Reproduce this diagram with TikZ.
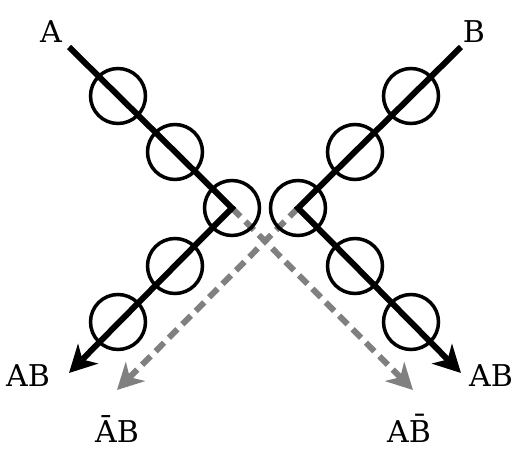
\documentclass[tikz,border=0pt]{standalone}
\usepackage{fontspec}
\setmainfont{DejaVu Serif}
\usetikzlibrary{arrows.meta}
\begin{document}
\begin{tikzpicture}[x=1pt,y=-1pt,
  ring/.style={circle,draw=black,line width=3.5pt,minimum size=55pt,inner sep=0pt},
  beam/.style={line width=6pt,black,miter limit=10},
  ghost/.style={line width=6pt,gray,dash pattern=on 12pt off 7pt},
  tipb/.style={-{Stealth[length=27pt,width=28pt,inset=8pt]}},
  tipg/.style={-{Stealth[length=26pt,width=27pt,inset=8pt]}},
  lab/.style={anchor=base,inner sep=0pt,font=\fontsize{30}{35}\selectfont}]
\useasboundingbox (0,0) rectangle (523,463);
% end points
\coordinate (a0) at (69,47);
\coordinate (b0) at (461,47);
\coordinate (lbend) at (232,208);
\coordinate (rbend) at (298,208);
\coordinate (lend) at (69,373);
\coordinate (rend) at (461,373);
\coordinate (glend) at (117,390);
\coordinate (grend) at (413,390);
% gray dashed
\draw[ghost,tipg] (lbend) -- (grend);
\draw[ghost,tipg] (rbend) -- (glend);
% black beams
\draw[beam,tipb] (a0) -- (lbend) -- (lend);
\draw[beam,tipb] (b0) -- (rbend) -- (rend);
% rings
\node[ring] (l1) at (118,96) {};
\node[ring] (l2) at (175,152) {};
\node[ring] (l3) at (232,208) {};
\node[ring] (l4) at (175,266) {};
\node[ring] (l5) at (118,322) {};
\node[ring] (r1) at (411,96) {};
\node[ring] (r2) at (355,152) {};
\node[ring] (r3) at (298,208) {};
\node[ring] (r4) at (355,266) {};
\node[ring] (r5) at (411,322) {};
% labels
\node[lab] (tA) at (51,42) {A};
\node[lab] (tB) at (474,42) {B};
\node[lab] (tABl) at (28,386) {AB};
\node[lab] (tABr) at (491,386) {AB};
\node[lab] (tAbB) at (117,442) {\=AB};
\node[lab] (tABb) at (409,442) {A\=B};
\end{tikzpicture}
\end{document}
